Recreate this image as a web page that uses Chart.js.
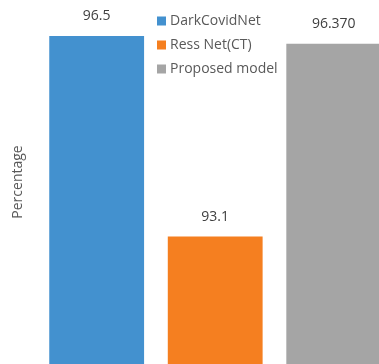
<!DOCTYPE html>
<html>
<head>
<meta charset="utf-8">
<script src="https://cdn.jsdelivr.net/npm/chart.js@4/dist/chart.umd.min.js"></script>
<style>
    html, body { margin: 0; padding: 0; background: #fff; overflow: hidden; }
    #barChart { display: block; }
</style>
</head>
<body>
<canvas id="barChart" width="393" height="364"></canvas>
<script>
const models = ['DarkCovidNet', 'Ress Net(CT)', 'Proposed model'];
const valueLabels = ['96.5', '93.1', '96.370'];
const scores = valueLabels.map(v => parseFloat(v));
const barColors = ['#4391cf', '#f57f20', '#a5a5a5'];

window.onload = function () {
    const ctx = document.getElementById('barChart').getContext('2d');

    // value text above each bar
    const valueText = {
        id: 'valueText',
        afterDatasetsDraw(chart) {
            const c = chart.ctx;
            c.save();
            c.font = '14px "Open Sans"';
            c.fillStyle = '#404040';
            c.textAlign = 'center';
            c.textBaseline = 'middle';
            chart.data.datasets.forEach((ds, i) => {
                const bar = chart.getDatasetMeta(i).data[0];
                c.fillText(valueLabels[i], bar.x, bar.y - 19.5);
            });
            c.restore();
        }
    };

    // legend sits inside the plot, between the first and last bar
    const innerLegend = {
        id: 'innerLegend',
        afterDraw(chart) {
            const c = chart.ctx;
            c.save();
            c.font = '14px "Open Sans"';
            c.textBaseline = 'middle';
            chart.data.datasets.forEach((ds, i) => {
                const y = 21 + i * 24;
                c.fillStyle = ds.backgroundColor;
                c.fillRect(157, y - 4.5, 9, 9);
                c.fillStyle = '#595959';
                c.fillText(ds.label, 170, y);
            });
            c.restore();
        }
    };

    new Chart(ctx, {
        type: 'bar',
        data: {
            labels: [''],
            datasets: models.map((m, i) => ({
                label: m,
                data: [scores[i]],
                backgroundColor: barColors[i],
                borderWidth: 0
            }))
        },
        options: {
            responsive: false,
            animation: false,
            layout: { padding: 0 },
            plugins: {
                legend: { display: false },
                tooltip: { enabled: false }
            },
            datasets: {
                bar: { categoryPercentage: 1.0, barPercentage: 0.8 }
            },
            scales: {
                x: { display: false },
                y: {
                    min: 90.94,
                    max: 97.11,
                    ticks: { display: false },
                    grid: { display: false },
                    border: { display: false },
                    title: {
                        display: true,
                        text: 'Percentage',
                        color: '#595959',
                        font: { family: 'Open Sans', size: 14 },
                        padding: { top: 9.6, bottom: 3 }
                    }
                }
            }
        },
        plugins: [valueText, innerLegend]
    });
};
</script>
</body>
</html>
